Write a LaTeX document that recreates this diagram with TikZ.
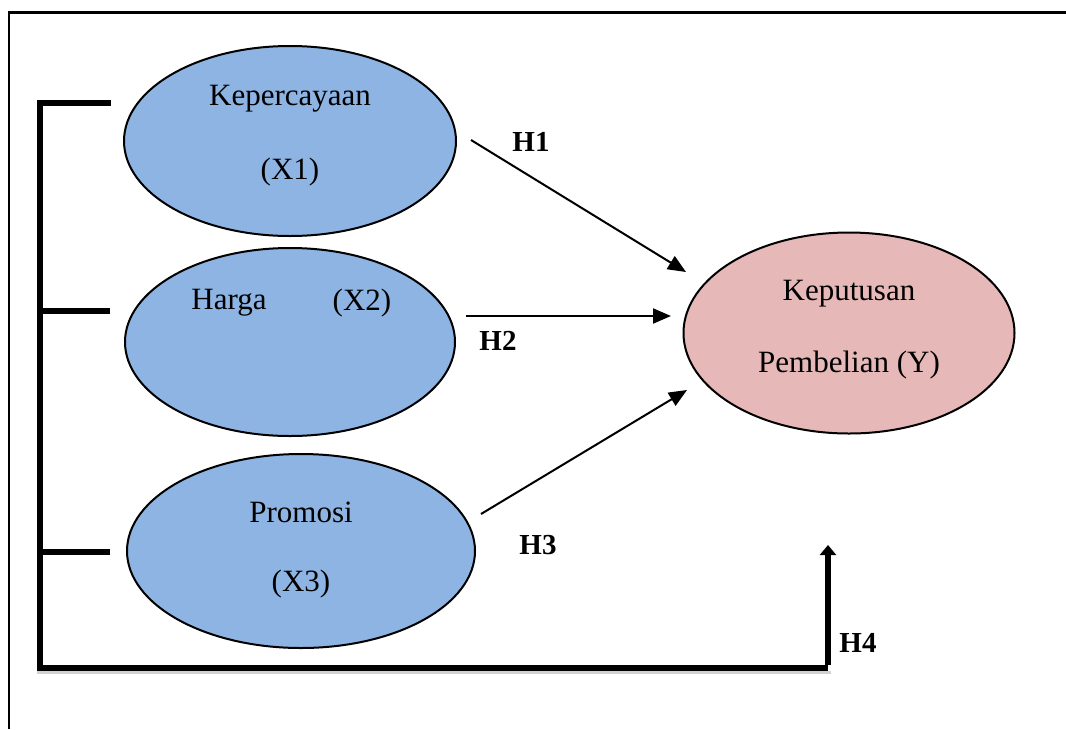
\documentclass[tikz,border=0pt]{standalone}
\usepackage{fontspec}
\setmainfont{Liberation Serif}
\usetikzlibrary{shapes.geometric,arrows.meta}
\definecolor{blueell}{HTML}{8EB4E3}
\definecolor{pinkell}{HTML}{E6B9B8}
\begin{document}
\begin{tikzpicture}[x=1pt,y=-1pt,
  ell/.style={draw=black,line width=2pt,ellipse,inner sep=0pt},
  lbl/.style={font=\fontsize{31}{36}\selectfont,inner sep=0pt},
  hlbl/.style={font=\fontsize{29}{33}\selectfont\bfseries,inner sep=0pt},
  arr/.style={line width=2pt,-{Triangle[length=18pt,width=15pt]}},
  brk/.style={line width=6pt}]
\useasboundingbox (0,0) rectangle (1066,729);
% frame
\draw[line width=2.2pt] (9,729) -- (9,12.5) -- (1066,12.5);
% ellipses
\node[ell,fill=blueell,minimum width=332pt,minimum height=190pt] (x1) at (290,141) {};
\node[ell,fill=blueell,minimum width=330pt,minimum height=188pt] (x2) at (290,342) {};
\node[ell,fill=blueell,minimum width=348pt,minimum height=194pt] (x3) at (301,551) {};
\node[ell,fill=pinkell,minimum width=331pt,minimum height=201pt] (y) at (849,333) {};
% texts
\node[lbl] (t1a) at (290,99) {Kepercayaan};
\node[lbl] (t1b) at (290,172) {(X1)};
\node[lbl] (t2a) at (229,303) {Harga};
\node[lbl] (t2b) at (362,303) {(X2)};
\node[lbl] (t3a) at (301,512) {Promosi};
\node[lbl] (t3b) at (301,584) {(X3)};
\node[lbl] (tya) at (849,294) {Keputusan};
\node[lbl] (tyb) at (849,365) {Pembelian (Y)};
% arrow end points
\coordinate (a1s) at (471,140);
\coordinate (a1e) at (686,272);
\coordinate (a2s) at (466,316);
\coordinate (a2e) at (671,316);
\coordinate (a3s) at (481,514);
\coordinate (a3e) at (687,390);
\draw[arr] (a1s) -- (a1e);
\draw[arr] (a2s) -- (a2e);
\draw[arr] (a3s) -- (a3e);
% H labels
\node[hlbl] (h1) at (531,142) {H1};
\node[hlbl] (h2) at (498,341) {H2};
\node[hlbl] (h3) at (538,545) {H3};
\node[hlbl] (h4) at (858,643) {H4};
% bracket
\coordinate (b1) at (111,103);
\coordinate (b1l) at (40,103);
\coordinate (b2) at (110,311);
\coordinate (b2l) at (40,311);
\coordinate (b3) at (110,552);
\coordinate (b3l) at (40,552);
\coordinate (bb) at (40,668);
\coordinate (br) at (828,668);
\coordinate (bt) at (828,545);
\draw[gray!35,line width=3pt] (37,672.5) -- (831,672.5);
\draw[brk] (b1) -- (b1l) -- (bb) -- (br);
\draw[brk] (b2) -- (b2l);
\draw[brk] (b3) -- (b3l);
\draw[line width=6pt,-{Triangle[length=10pt,width=16pt]}] ([yshift=3pt]br) -- (bt);
\end{tikzpicture}
\end{document}
